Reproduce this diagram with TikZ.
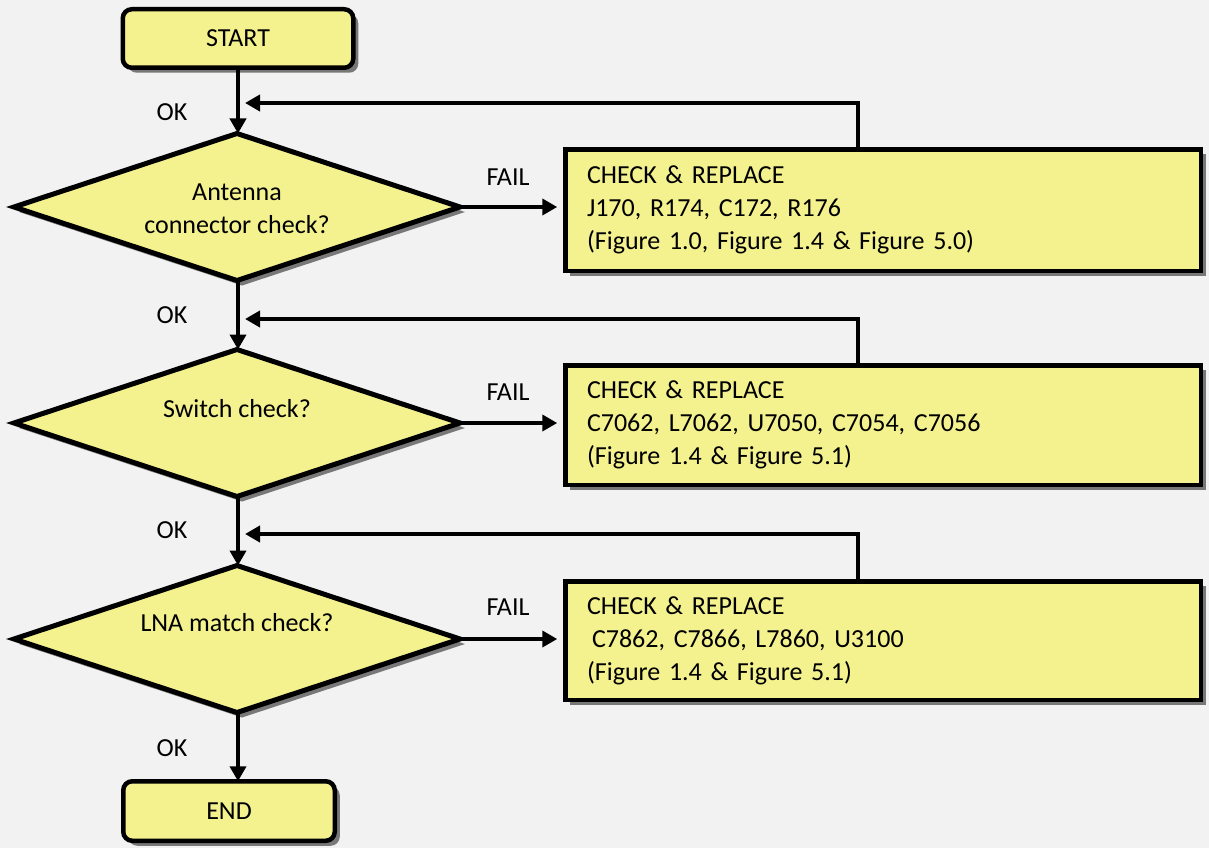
\documentclass[tikz,border=0pt]{standalone}
\usepackage{fontspec}
\setmainfont{Carlito}
\usetikzlibrary{shapes.geometric,arrows.meta,shadows}
\definecolor{bgcol}{RGB}{242,242,242}
\definecolor{fillY}{RGB}{244,241,143}
\definecolor{shadowgray}{RGB}{120,120,120}
\begin{document}
\begin{tikzpicture}[x=1pt,y=-1pt,
  every node/.style={font=\fontsize{26}{33}\selectfont, inner sep=0pt, outer sep=0pt},
  shadowed/.style={drop shadow={shadow xshift=5pt,shadow yshift=-5pt,fill=shadowgray,opacity=1}},
  term/.style={draw=black, line width=4.5pt, fill=fillY, rounded corners=9pt, shadowed},
  decision/.style={shape=diamond, draw=black, line width=5pt, fill=fillY, minimum width=446pt, minimum height=147pt, shadowed},
  action/.style={draw=black, line width=4.5pt, fill=fillY, shadowed, minimum width=635.5pt, text width=592pt, align=left},
  conn/.style={draw=black, line width=4pt, -{Triangle[length=15pt,width=16pt]}}
]
\fill[bgcol] (0,0) rectangle (1209,848);
\useasboundingbox (0,0) rectangle (1209,848);

% terminals
\node[term, minimum width=230.5pt, minimum height=58.5pt] (start) at (238,38.5) {START};
\node[term, minimum width=211.5pt, minimum height=59.5pt] (end) at (229,811) {END};

% decisions
\node[decision] (d1) at (237,207) {};
\node[align=center] (t1) at (237,209) {Antenna\\connector check?};
\node[decision] (d2) at (237,423) {};
\node (t2) at (237,409) {Switch check?};
\node[decision] (d3) at (237,639) {};
\node (t3) at (237,623) {LNA match check?};

% actions
\node[action, minimum height=121.5pt] (b1) at (883,210)
  {CHECK \& REPLACE\\J170, R174, C172, R176\\(Figure 1.0, Figure 1.4 \& Figure 5.0)};
\node[action, minimum height=119.5pt] (b2) at (883,425)
  {CHECK \& REPLACE\\C7062, L7062, U7050, C7054, C7056\\(Figure 1.4 \& Figure 5.1)};
\node[action, minimum height=118.5pt] (b3) at (883,640.5)
  {CHECK \& REPLACE\\\hspace*{5pt}C7862, C7866, L7860, U3100\\(Figure 1.4 \& Figure 5.1)};

% labels
\node (ok1) at (172,112) {OK};
\node (ok2) at (172,315) {OK};
\node (ok3) at (172,530) {OK};
\node (ok4) at (172,748) {OK};
\node (f1) at (508,177) {FAIL};
\node (f2) at (508,392) {FAIL};
\node (f3) at (508,607) {FAIL};

% main spine
\draw[conn] (start.south) -- (start.south |- d1.north);
\draw[conn] (d1.south -| start.south) -- (start.south |- d2.north);
\draw[conn] (d2.south -| start.south) -- (start.south |- d3.north);
\draw[conn] (d3.south -| start.south) -- (start.south |- end.north);

% fail arrows
\draw[conn, shorten >=8pt] (d1.east) -- (d1.east -| b1.west);
\draw[conn, shorten >=8pt] (d2.east) -- (d2.east -| b2.west);
\draw[conn, shorten >=8pt] (d3.east) -- (d3.east -| b3.west);

% feedback loops
\coordinate (r1) at (858,103);
\coordinate (r2) at (858,319);
\coordinate (r3) at (858,534);
\draw[conn, shorten >=7pt] (b1.north -| r1) -- (r1) -- (r1 -| start.south);
\draw[conn, shorten >=7pt] (b2.north -| r2) -- (r2) -- (r2 -| start.south);
\draw[conn, shorten >=7pt] (b3.north -| r3) -- (r3) -- (r3 -| start.south);
\end{tikzpicture}
\end{document}
